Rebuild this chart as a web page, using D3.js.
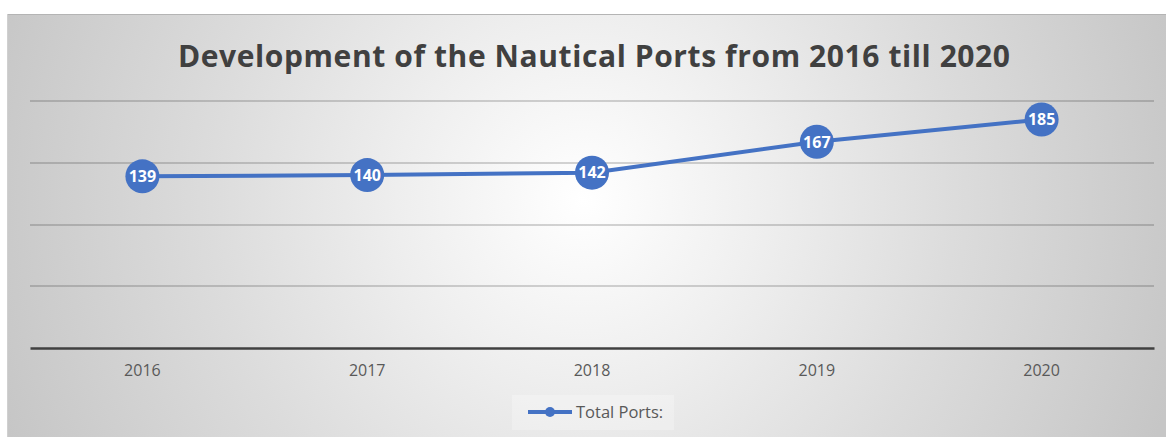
<!DOCTYPE html>
<html><head><meta charset="utf-8">
<script src="https://cdn.jsdelivr.net/npm/d3@7"></script>
<style>html,body{margin:0;padding:0;background:#fff;}svg{display:block;}</style>
</head><body>
<script>
const categories = ["2016","2017","2018","2019","2020"];
const totalPorts = [139,140,142,167,185];
const yTicks = [0,50,100,150,200];
const seriesName = "Total Ports:";
const title = "Development of the Nautical Ports from 2016 till 2020";

const W = 1166, H = 437;
const svg = d3.select("body").append("svg").attr("width", W).attr("height", H);
const defs = svg.append("defs");
const rg = defs.append("radialGradient").attr("id","bg").attr("gradientUnits","userSpaceOnUse")
  .attr("cx",583).attr("cy",200).attr("r",620);
[[0,"#ffffff"],[0.3,"#eeeeee"],[0.6,"#dcdcdc"],[1,"#c6c6c6"]].forEach(([o,c]) =>
  rg.append("stop").attr("offset",o).attr("stop-color",c));

svg.append("rect").attr("x",7).attr("y",14).attr("width",W-7).attr("height",H-14).attr("fill","url(#bg)");
svg.append("line").attr("x1",7).attr("x2",W).attr("y1",14.5).attr("y2",14.5).attr("stroke","#b4b4b4").attr("stroke-width",1);
svg.append("line").attr("x1",7.5).attr("x2",7.5).attr("y1",14).attr("y2",H).attr("stroke","#d0d0d0").attr("stroke-width",1);

const x = d3.scaleBand().domain(categories).range([30,1154]);
const y = d3.scaleLinear().domain([0,200]).range([348,101]);

svg.append("text").attr("x",594).attr("y",67).attr("text-anchor","middle")
  .attr("font-family","'Open Sans', sans-serif").attr("font-weight","bold").attr("font-size",30)
  .attr("textLength",832).attr("lengthAdjust","spacing")
  .attr("fill","#404040").text(title);

// gridlines
svg.append("g").selectAll("line").data(yTicks.filter(d=>d>0)).join("line")
  .attr("x1",30).attr("x2",1154).attr("y1",d=>Math.round(y(d))).attr("y2",d=>Math.round(y(d)))
  .attr("stroke","#000").attr("stroke-opacity",0.22).attr("stroke-width",1.5);

// x axis
const xa = svg.append("g").attr("transform","translate(0,348)").call(d3.axisBottom(x).tickSize(0).tickPadding(17));
xa.select(".domain").attr("stroke","#404040").attr("stroke-width",2.5);
xa.selectAll("text").attr("font-family","'Open Sans', sans-serif").attr("font-size",16).attr("fill","#595959");

const cx = d => x(d) + x.bandwidth()/2;
const line = d3.line().x((d,i)=>cx(categories[i])).y(d=>y(d));
svg.append("path").datum(totalPorts).attr("d",line).attr("fill","none").attr("stroke","#4472C4").attr("stroke-width",4);

const pts = svg.append("g").selectAll("g").data(totalPorts).join("g")
  .attr("transform",(d,i)=>`translate(${cx(categories[i])},${y(d)})`);
pts.append("circle").attr("r",17).attr("fill","#4472C4");
pts.append("text").attr("text-anchor","middle").attr("dy","0.36em")
  .attr("font-family","'Open Sans', sans-serif").attr("font-weight","bold").attr("font-size",16)
  .attr("fill","#ffffff").text(d=>d);

// legend
const lg = svg.append("g");
lg.append("rect").attr("x",512).attr("y",395).attr("width",162).attr("height",35).attr("fill","#ffffff").attr("opacity",0.25);
lg.append("line").attr("x1",528).attr("x2",572).attr("y1",412).attr("y2",412).attr("stroke","#4472C4").attr("stroke-width",4);
lg.append("circle").attr("cx",550).attr("cy",412).attr("r",5).attr("fill","#4472C4");
lg.append("text").attr("x",576).attr("y",412).attr("dy","0.36em")
  .attr("font-family","'Open Sans', sans-serif").attr("font-size",16.5).attr("fill","#595959").text(seriesName);
</script>
</body></html>
